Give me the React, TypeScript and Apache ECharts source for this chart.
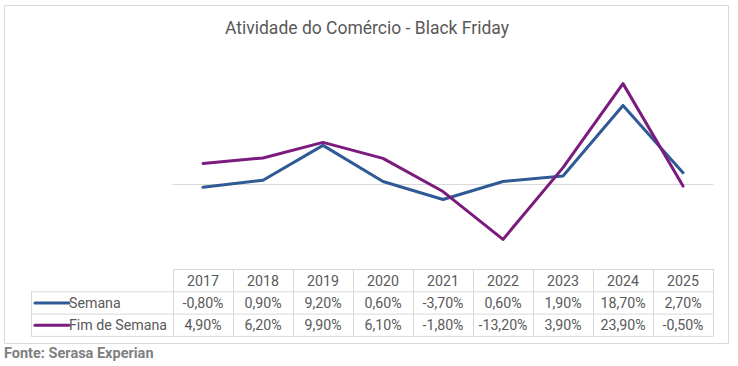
import React, { useEffect, useRef } from "react";
import * as echarts from "echarts";

const years = ["2017", "2018", "2019", "2020", "2021", "2022", "2023", "2024", "2025"];
const semana = [-0.8, 0.9, 9.2, 0.6, -3.7, 0.6, 1.9, 18.7, 2.7];
const fimDeSemana = [4.9, 6.2, 9.9, 6.1, -1.8, -13.2, 3.9, 23.9, -0.5];
const seriesNames = ["Semana", "Fim de Semana"];
const seriesColors = ["#2F5A96", "#7B1B7E"];

const W = 738;
const H = 366;
const GRID_L = 173;
const GRID_R = 713;
const GRID_T = 58;
const GRID_B = 268;
const FONT = "Roboto, 'Noto Sans', sans-serif";
const TEXT = "#595959";
const BORDER = "#d9d9d9";

const fmt = (v: number) => v.toFixed(2).replace(".", ",") + "%";

export default function App() {
  const ref = useRef<HTMLDivElement>(null);
  useEffect(() => {
    if (!ref.current) return;
    const chart = echarts.init(ref.current, undefined, { renderer: "svg" });
    const colW = (GRID_R - GRID_L) / years.length;
    const rowH = 22.3;
    const tTop = GRID_B + 1;
    const labelL = 31;
    const graphics: any[] = [];
    graphics.push({
      type: "rect",
      shape: { x: 4.5, y: 5.5, width: 724, height: 338 },
      style: { fill: "none", stroke: BORDER, lineWidth: 1 },
      silent: true,
    });
    graphics.push({
      type: "text",
      x: 367,
      y: 28,
      style: {
        text: "Atividade do Comércio - Black Friday",
        font: `17.5px ${FONT}`,
        fill: TEXT,
        textAlign: "center",
        textVerticalAlign: "middle",
      },
    });
    const hl = (x1: number, x2: number, y: number) =>
      graphics.push({
        type: "line",
        shape: { x1, y1: y, x2, y2: y },
        style: { stroke: BORDER, lineWidth: 1 },
        silent: true,
      });
    const vl = (x: number, y1: number, y2: number) =>
      graphics.push({
        type: "line",
        shape: { x1: x, y1, x2: x, y2 },
        style: { stroke: BORDER, lineWidth: 1 },
        silent: true,
      });
    hl(GRID_L, GRID_R, tTop + 0.5);
    hl(labelL, GRID_R, tTop + rowH + 0.5);
    hl(labelL, GRID_R, tTop + 2 * rowH + 0.5);
    hl(labelL, GRID_R, tTop + 3 * rowH + 0.5);
    for (let i = 0; i <= years.length; i++) {
      vl(Math.round(GRID_L + i * colW) + 0.5, tTop, tTop + 3 * rowH + 0.5);
    }
    vl(labelL + 0.5, tTop + rowH, tTop + 3 * rowH + 0.5);
    const cellFont = `14.2px ${FONT}`;
    years.forEach((y, i) => {
      graphics.push({
        type: "text",
        x: GRID_L + (i + 0.5) * colW,
        y: tTop + rowH / 2 + 0.5,
        style: { text: y, font: cellFont, fill: TEXT, textAlign: "center", textVerticalAlign: "middle" },
      });
    });
    [semana, fimDeSemana].forEach((arr, r) => {
      const cy = tTop + rowH * (r + 1.5) + 0.5;
      graphics.push({
        type: "line",
        shape: { x1: 35, y1: cy, x2: 69, y2: cy },
        style: { stroke: seriesColors[r], lineWidth: 3, lineCap: "round" },
      });
      graphics.push({
        type: "text",
        x: 69,
        y: cy,
        style: { text: seriesNames[r], font: cellFont, fill: TEXT, textAlign: "left", textVerticalAlign: "middle" },
      });
      arr.forEach((v, i) => {
        graphics.push({
          type: "text",
          x: GRID_L + (i + 0.5) * colW,
          y: cy,
          style: { text: fmt(v), font: cellFont, fill: TEXT, textAlign: "center", textVerticalAlign: "middle" },
        });
      });
    });
    graphics.push({
      type: "text",
      x: 4,
      y: 353,
      style: {
        text: "Fonte: Serasa Experian",
        font: `bold 14.5px ${FONT}`,
        fill: "#7f7f7f",
        textAlign: "left",
        textVerticalAlign: "middle",
      },
    });

    chart.setOption({
      animation: false,
      grid: { left: GRID_L, right: W - GRID_R, top: GRID_T, bottom: H - GRID_B },
      xAxis: {
        type: "category",
        data: years,
        boundaryGap: true,
        axisLine: { show: true, onZero: true, lineStyle: { color: BORDER, width: 1 } },
        axisTick: { show: false },
        axisLabel: { show: false },
        splitLine: { show: false },
      },
      yAxis: {
        type: "value",
        min: -20,
        max: 30,
        interval: 10,
        axisLine: { show: false },
        axisTick: { show: false },
        axisLabel: { show: false },
        splitLine: { show: false },
      },
      series: [semana, fimDeSemana].map((d, i) => ({
        name: seriesNames[i],
        type: "line",
        data: d,
        showSymbol: false,
        symbol: "none",
        lineStyle: { color: seriesColors[i], width: 3, join: "round", cap: "round" },
        itemStyle: { color: seriesColors[i] },
        z: 3 + i,
      })),
      graphic: graphics,
    });
    return () => chart.dispose();
  }, []);
  return (
    <div
      ref={ref}
      style={{ position: "fixed", left: 0, top: 0, width: W, height: H, background: "#fff" }}
    />
  );
}
